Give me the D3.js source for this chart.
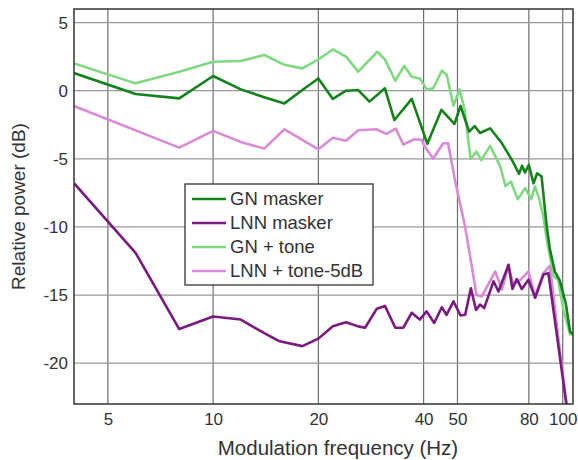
<!DOCTYPE html>
<html>
<head>
<meta charset="utf-8">
<script src="https://cdn.jsdelivr.net/npm/d3@7"></script>
<style>
  body { margin: 0; background: #fff; }
  text { font-family: "Liberation Sans", Arial, sans-serif; fill: #333; }
</style>
</head>
<body>
<div id="chart"></div>
<script>
/* Data (Hz, dB) */
const gnMaskerFreq = [4, 6, 8, 10, 12, 14, 16, 18, 20, 22, 24, 26, 28, 31, 33, 37, 41, 45, 49, 51, 54, 56, 58, 62, 67, 72, 75, 76.5, 78, 80, 82.5, 84.5, 87, 90, 92, 95, 98, 102, 105, 108.5];
const gnMaskerVal = [1.3, -0.24, -0.56, 1.08, 0.1, -0.48, -0.93, 0.05, 0.9, -0.6, 0, 0.05, -0.8, 0.18, -2.15, -0.6, -3.9, -1.4, -2.44, -1.12, -3.0, -2.6, -3.1, -2.76, -3.86, -5.2, -6.1, -5.5, -6.0, -5.45, -6.8, -6.06, -6.3, -10, -11.7, -13.3, -13.9, -15.6, -17.7, -18];

const lnnMaskerFreq = [4, 6, 8, 10, 12, 14, 15.5, 18, 20, 22, 24, 26, 27.2, 29.4, 31, 33.2, 35, 37, 39, 40.8, 42.9, 45.1, 46.5, 48.7, 51, 52.6, 54.6, 56.5, 58, 59.6, 63.4, 65.5, 70, 71.8, 73.9, 76.4, 79.8, 83.4, 88.1, 91, 99.3, 103];
const lnnMaskerVal = [-6.79, -11.9, -17.5, -16.57, -16.8, -17.8, -18.4, -18.75, -18.2, -17.3, -17.0, -17.3, -17.4, -16.0, -15.8, -17.4, -17.4, -16.3, -16.8, -16.2, -17.05, -15.9, -16.45, -15.47, -16.5, -16.45, -14.5, -16.1, -15.7, -15.96, -14.0, -14.74, -12.78, -14.56, -13.83, -14.56, -13.88, -15.2, -13.5, -13.4, -20.5, -23.5];

const gnToneFreq = [4, 6, 8, 10, 12, 14, 16, 18, 20, 22, 24, 26, 29.5, 31, 33.2, 35.2, 37, 39, 40.9, 42.6, 45.1, 46.6, 48.7, 50.7, 52.4, 54.5, 56.7, 58.5, 62, 66.3, 68.6, 71.1, 74.3, 78.1, 81.2, 83.3, 85.6, 88, 90, 92, 94, 97, 100.5, 105, 108.5];
const gnToneVal = [2.0, 0.54, 1.4, 2.13, 2.18, 2.62, 1.9, 1.64, 2.3, 3.03, 2.5, 1.4, 2.86, 2.3, 0.73, 1.83, 1.03, 0.9, 0.08, 0.18, 1.47, 1.15, -1.1, 0.1, -1.4, -5.0, -4.47, -5.1, -4.05, -5.57, -7.0, -6.67, -7.96, -7.15, -7.96, -7.03, -7.9, -9.2, -10.9, -12.2, -13.6, -13.9, -16.1, -17.9, -17.8];

const lnnToneFreq = [4, 8, 10, 12, 14, 16, 18, 20, 22, 24, 26, 29.3, 31.3, 33.3, 35, 37.6, 39.5, 40.2, 42.6, 45.5, 47, 49.2, 52.6, 56.7, 58.7, 64.1, 67, 69.8, 72.3, 75.6, 79.8, 83.3, 88, 91.8, 93.1, 99.3, 103];
const lnnToneVal = [-1.12, -4.18, -2.95, -3.77, -4.25, -2.83, -3.6, -4.3, -3.45, -3.67, -2.9, -2.83, -3.17, -2.78, -3.95, -3.56, -3.6, -4.05, -5.0, -3.86, -3.86, -6.6, -10.0, -15.0, -15.1, -13.27, -14.6, -12.9, -14.2, -13.9, -13.27, -15.1, -13.4, -12.86, -14.1, -20.2, -23.3];

const xTicks = [5, 10, 20, 40, 50, 80, 100];
const yTicks = [-20, -15, -10, -5, 0, 5];

const seriesNames = ["GN masker", "LNN masker", "GN + tone", "LNN + tone-5dB"];
const seriesColors = ["#14821a", "#7a1a80", "#80d880", "#d98ad8"];

/* Layout */
const W = 578, H = 460;
const margin = { left: 74, top: 9, right: 5, bottom: 56 };
const w = W - margin.left - margin.right;
const h = H - margin.top - margin.bottom;

const x = d3.scaleLog().domain([4, 107]).range([0, w]);
const y = d3.scaleLinear().domain([-23, 6]).range([h, 0]);

const svg = d3.select("#chart").append("svg")
    .attr("width", W)
    .attr("height", H);

const g = svg.append("g")
    .attr("transform", "translate(" + margin.left + "," + margin.top + ")");

svg.append("defs").append("clipPath").attr("id", "clip")
    .append("rect").attr("width", w).attr("height", h);

/* Grid */
g.append("g").selectAll("line.vg")
    .data(xTicks).enter().append("line")
    .attr("x1", d => x(d)).attr("x2", d => x(d))
    .attr("y1", 0).attr("y2", h)
    .attr("stroke", "#6e6e6e").attr("stroke-width", 1.2);

g.append("g").selectAll("line.hg")
    .data(yTicks).enter().append("line")
    .attr("x1", 0).attr("x2", w)
    .attr("y1", d => y(d)).attr("y2", d => y(d))
    .attr("stroke", "#999").attr("stroke-width", 1.2);

/* Axes (labels only, frame drawn below) */
const xAxis = g.append("g")
    .attr("transform", "translate(0," + h + ")")
    .call(d3.axisBottom(x).tickValues(xTicks).tickFormat(d => String(d)).tickSize(0).tickPadding(9));
const yAxis = g.append("g")
    .call(d3.axisLeft(y).tickValues(yTicks).tickFormat(d => String(d)).tickSize(0).tickPadding(6));
[xAxis, yAxis].forEach(a => {
    a.select(".domain").remove();
    a.selectAll("text").style("font-size", "17px").attr("fill", "#333");
});

/* Lines */
const line = d3.line().x(d => x(d[0])).y(d => y(d[1]));
const series = [
    d3.zip(gnToneFreq, gnToneVal),
    d3.zip(lnnToneFreq, lnnToneVal),
    d3.zip(lnnMaskerFreq, lnnMaskerVal),
    d3.zip(gnMaskerFreq, gnMaskerVal)
];
const drawColors = [seriesColors[2], seriesColors[3], seriesColors[1], seriesColors[0]];

g.append("g").attr("clip-path", "url(#clip)")
    .selectAll("path").data(series).enter().append("path")
    .attr("d", line)
    .attr("fill", "none")
    .attr("stroke", (d, i) => drawColors[i])
    .attr("stroke-width", 2.6)
    .attr("stroke-linejoin", "round");

/* Frame */
g.append("rect")
    .attr("width", w).attr("height", h)
    .attr("fill", "none").attr("stroke", "#333").attr("stroke-width", 1.5);

/* Axis titles */
svg.append("text")
    .attr("x", 338).attr("y", 455)
    .attr("text-anchor", "middle")
    .style("font-size", "20.5px")
    .text("Modulation frequency (Hz)");

svg.append("text")
    .attr("transform", "translate(25," + (margin.top + h / 2) + ") rotate(-90)")
    .attr("text-anchor", "middle")
    .style("font-size", "19px")
    .text("Relative power (dB)");

/* Legend */
const leg = svg.append("g").attr("transform", "translate(185,184)");
leg.append("rect")
    .attr("width", 188).attr("height", 101)
    .attr("fill", "#fff").attr("stroke", "#333").attr("stroke-width", 1.3);
const rows = leg.selectAll("g.row").data(seriesNames).enter().append("g")
    .attr("transform", (d, i) => "translate(0," + (15 + i * 24) + ")");
rows.append("line")
    .attr("x1", 7).attr("x2", 41)
    .attr("stroke", (d, i) => seriesColors[i])
    .attr("stroke-width", 2.6);
rows.append("text")
    .attr("x", 45).attr("dy", "0.35em")
    .style("font-size", "18.5px")
    .attr("fill", "#222")
    .text(d => d);
</script>
</body>
</html>
